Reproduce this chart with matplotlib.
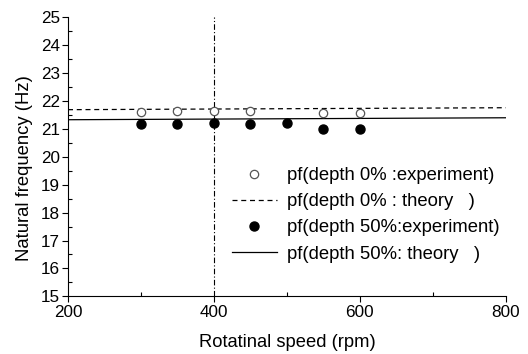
import matplotlib
matplotlib.use("Agg")
import matplotlib.pyplot as plt
from matplotlib.ticker import MultipleLocator

plt.rcParams['font.family'] = ['Liberation Sans', 'DejaVu Sans']

speed_exp0 = [300, 350, 400, 450, 550, 600]
freq_exp0 = [21.59, 21.64, 21.63, 21.64, 21.57, 21.57]
speed_exp50 = [300, 350, 400, 450, 500, 550, 600]
freq_exp50 = [21.17, 21.19, 21.22, 21.16, 21.23, 20.98, 21.01]
speed_theory = [200, 800]
freq_theory0 = [21.69, 21.76]
freq_theory50 = [21.33, 21.40]
vline_x = 400

labels = ["pf(depth 0% :experiment)", "pf(depth 0% : theory   )",
          "pf(depth 50%:experiment)", "pf(depth 50%: theory   )"]

fig = plt.figure(figsize=(5.28, 3.54), dpi=100)
ax = fig.add_axes([0.1288, 0.163, 0.958 - 0.1288, 0.951 - 0.163])

h1, = ax.plot(speed_exp0, freq_exp0, 'o', mfc='white', mec='#555555', ms=6, mew=0.9, zorder=3)
h2, = ax.plot(speed_theory, freq_theory0, '--', color='black', lw=0.9, dashes=(4, 3))
h3, = ax.plot(speed_exp50, freq_exp50, 'o', color='black', ms=6.5, zorder=3)
h4, = ax.plot(speed_theory, freq_theory50, '-', color='black', lw=0.9)
ax.axvline(vline_x, color='black', lw=0.8, ls='-.', dashes=(5, 2, 1, 2))

ax.set_xlim(200, 800)
ax.set_ylim(15, 25)
ax.xaxis.set_major_locator(MultipleLocator(200))
ax.xaxis.set_minor_locator(MultipleLocator(100))
ax.yaxis.set_major_locator(MultipleLocator(1))
ax.yaxis.set_minor_locator(MultipleLocator(0.5))
ax.tick_params(which='major', direction='out', length=4, width=0.8, labelsize=12.3, pad=2)
ax.tick_params(which='minor', direction='in', length=3, width=0.8)
for s in ['top', 'right']:
    ax.spines[s].set_visible(False)

ax.set_xlabel("Rotatinal speed (rpm)", fontsize=13.2, labelpad=10)
ax.set_ylabel("Natural frequency (Hz)", fontsize=13.3)
ax.yaxis.set_label_coords(-0.08, 0.46)

ax.legend([h1, h2, h3, h4], labels, loc='upper left', bbox_to_anchor=(0.357, 0.49),
          frameon=False, fontsize=13.3, handlelength=2.45, handletextpad=0.55,
          labelspacing=0.5, borderaxespad=0)

fig.savefig("out.png", dpi=100)
